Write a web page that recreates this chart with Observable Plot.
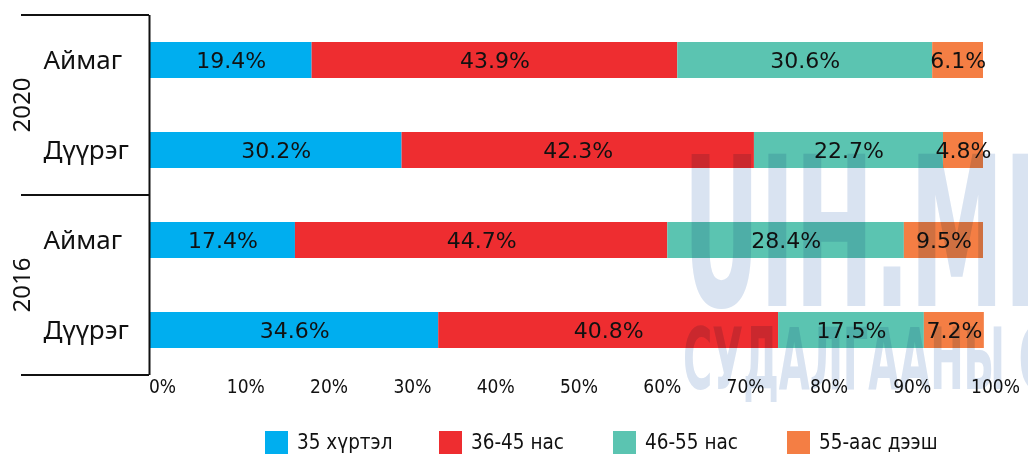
<!DOCTYPE html>
<html>
<head>
<meta charset="utf-8">
<script src="https://cdn.jsdelivr.net/npm/d3@7"></script>
<script src="https://cdn.jsdelivr.net/npm/@observablehq/plot@0.6"></script>
<style>
  body { margin: 0; background: #fff; width: 1028px; height: 454px; overflow: hidden; position: relative; }
  #chart svg { display: block; }
  #legend { display: flex; padding-left: 265px; padding-top: 18px; font-family: "Liberation Sans Narrow", "DejaVu Sans Condensed", sans-serif; font-size: 20.5px; color: #111; }
  .item { display: flex; align-items: center; width: 174px; }
  .sw { width: 23px; height: 23px; margin-right: 9px; flex: none; }
  #wm { position: absolute; left: 0; top: 0; pointer-events: none; mix-blend-mode: multiply; }
</style>
</head>
<body>
<div id="chart"></div>
<div id="legend"></div>
<svg id="wm" width="1028" height="454"></svg>
<script>
// ---- data ----
const years = ["2020", "2020", "2016", "2016"];
const regions = ["Аймаг", "Дүүрэг", "Аймаг", "Дүүрэг"];
const groups = ["35 хүртэл", "36-45 нас", "46-55 нас", "55-аас дээш"];
const upTo35 = [19.4, 30.2, 17.4, 34.6];
const age36to45 = [43.9, 42.3, 44.7, 40.8];
const age46to55 = [30.6, 22.7, 28.4, 17.5];
const over55 = [6.1, 4.8, 9.5, 7.2];
const xTicks = [0, 10, 20, 30, 40, 50, 60, 70, 80, 90, 100];
const colors = ["#00AEEF", "#EE2D30", "#5BC4B1", "#F47E44"];
const watermark = ["UIH.MN", "СУДАЛГААНЫ СУ"];

(function () {
const series = [upTo35, age36to45, age46to55, over55];
const keys = years.map((y, i) => `${y}|${regions[i]}`);
const rows = [];
keys.forEach((k, i) => {
  groups.forEach((g, j) => rows.push({key: k, year: years[i], region: regions[i], group: g, value: series[j][i]}));
});
const labelRows = keys.map((k, i) => ({key: k, region: regions[i]}));
const H = 412, MT = 15, MB = 37;
const sans = "'Noto Sans', 'Open Sans', sans-serif";
const wide = "'DejaVu Sans', sans-serif";
const narrow = "'Liberation Sans Narrow', 'DejaVu Sans Condensed', sans-serif";

const chart = Plot.plot({
  width: 1028,
  height: H,
  marginTop: MT,
  marginBottom: MB,
  marginLeft: 150,
  marginRight: 45,
  style: {fontFamily: sans, background: "transparent"},
  x: {domain: [0, 100], axis: null},
  y: {domain: keys, paddingInner: 0.6, paddingOuter: 0.3, axis: null},
  color: {domain: groups, range: colors},
  marks: [
    Plot.barX(rows, Plot.stackX({x: "value", y: "key", fill: "group"})),
    Plot.text(rows, Plot.stackX({x: "value", y: "key", text: d => d.value.toFixed(1) + "%", fontSize: 22,
      fontFamily: wide, fill: "#111"})),
    Plot.axisX({ticks: xTicks, tickSize: 0, tickPadding: 4, tickFormat: d => d + "%", fontSize: 19, dx: 12,
      label: null, fontFamily: narrow, fill: "#111"}),
    Plot.text(labelRows, {y: "key", text: "region", frameAnchor: "left", textAnchor: "start", dx: -107, fontSize: 26,
      fontFamily: sans, fill: "#111"}),
    Plot.ruleX([0], {stroke: "#111", strokeWidth: 2, dx: -1})
  ]
});
document.getElementById("chart").appendChild(chart);

// year group labels and bracket lines from the y scale
const ys = chart.scale("y");
const svg = d3.select(chart);
const g = svg.append("g");
const uniqYears = [...new Set(years)];
const y0 = MT, y1 = H - MB;
const bounds = [y0];
uniqYears.forEach(yr => {
  const ks = keys.filter((k, i) => years[i] === yr);
  const c = (ys.apply(ks[0]) + ys.apply(ks[ks.length - 1])) / 2 + ys.bandwidth / 2;
  g.append("text").attr("transform", `translate(20,${c}) rotate(-90)`).attr("text-anchor", "middle")
    .attr("dominant-baseline", "central")
    .attr("font-size", 24).attr("fill", "#111").attr("font-family", sans).text(yr);
  const last = ks[ks.length - 1];
  bounds.push(ys.apply(last) + ys.bandwidth + (ys.step - ys.bandwidth) / 2);
});
bounds[bounds.length - 1] = y1;
bounds.forEach(b => {
  g.append("line").attr("x1", 21).attr("x2", 149).attr("y1", b).attr("y2", b).attr("stroke", "#111").attr("stroke-width", 2);
});

// legend
const lg = d3.select("#legend");
groups.forEach((gname, i) => {
  const it = lg.append("div").attr("class", "item");
  it.append("div").attr("class", "sw").style("background", colors[i]);
  it.append("span").text(gname);
});

// watermark
const wm = d3.select("#wm");
wm.append("text").attr("x", 683).attr("y", 306).attr("font-size", 208).attr("font-weight", "bold")
  .attr("font-family", narrow)
  .attr("textLength", 400).attr("lengthAdjust", "spacingAndGlyphs").attr("fill", "#d9e3f1").text(watermark[0]);
wm.append("text").attr("x", 683).attr("y", 389).attr("font-size", 86).attr("font-weight", "bold")
  .attr("font-family", narrow)
  .attr("textLength", 396).attr("lengthAdjust", "spacingAndGlyphs").attr("fill", "#d9e3f1").text(watermark[1]);
})();
</script>
</body>
</html>
